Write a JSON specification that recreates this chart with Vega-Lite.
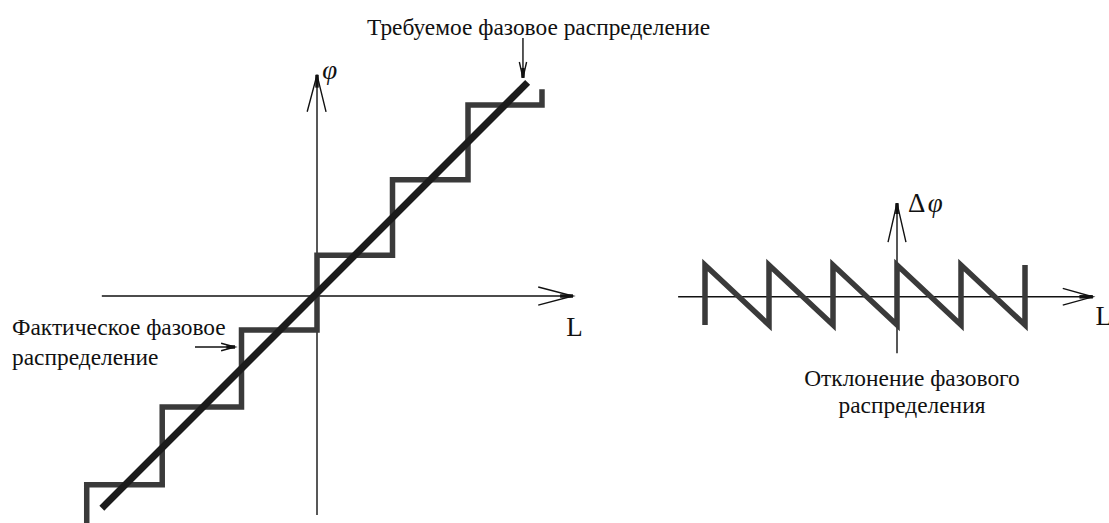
{
  "$schema": "https://vega.github.io/schema/vega-lite/v6.json",
  "width": 1109,
  "height": 523,
  "autosize": "none",
  "padding": 0,
  "background": "white",
  "config": {"view": {"stroke": null}},
  "datasets": {
    "leftLines": [
      {"seg": "stair", "kind": "actual", "i": 0, "x": -3.05, "y": -3.1},
      {"seg": "stair", "kind": "actual", "i": 1, "x": -3.05, "y": -2.54},
      {"seg": "stair", "kind": "actual", "i": 2, "x": -2.05, "y": -2.54},
      {"seg": "stair", "kind": "actual", "i": 3, "x": -2.05, "y": -1.51},
      {"seg": "stair", "kind": "actual", "i": 4, "x": -1.0, "y": -1.51},
      {"seg": "stair", "kind": "actual", "i": 5, "x": -1.0, "y": -0.49},
      {"seg": "stair", "kind": "actual", "i": 6, "x": 0, "y": -0.49},
      {"seg": "stair", "kind": "actual", "i": 7, "x": 0, "y": 0.5},
      {"seg": "stair", "kind": "actual", "i": 8, "x": 1.0, "y": 0.5},
      {"seg": "stair", "kind": "actual", "i": 9, "x": 1.0, "y": 1.5},
      {"seg": "stair", "kind": "actual", "i": 10, "x": 2.0, "y": 1.5},
      {"seg": "stair", "kind": "actual", "i": 11, "x": 2.0, "y": 2.49},
      {"seg": "stair", "kind": "actual", "i": 12, "x": 2.98, "y": 2.49},
      {"seg": "stair", "kind": "actual", "i": 13, "x": 2.98, "y": 2.7},
      {"seg": "diag", "kind": "required", "i": 0, "x": -2.85, "y": -2.85},
      {"seg": "diag", "kind": "required", "i": 1, "x": 2.79, "y": 2.79},
      {"seg": "xaxis", "kind": "axis", "i": 0, "x": -2.85, "y": -0.04},
      {"seg": "xaxis", "kind": "axis", "i": 1, "x": 3.39, "y": -0.04},
      {"seg": "yaxis", "kind": "axis", "i": 0, "x": 0, "y": -2.94},
      {"seg": "yaxis", "kind": "axis", "i": 1, "x": 0, "y": 2.89},
      {"seg": "xhead", "kind": "axis", "i": 0, "x": 2.93, "y": 0.08},
      {"seg": "xhead", "kind": "axis", "i": 1, "x": 3.39, "y": -0.04},
      {"seg": "xhead", "kind": "axis", "i": 2, "x": 2.93, "y": -0.16},
      {"seg": "yhead", "kind": "axis", "i": 0, "x": -0.13, "y": 2.40},
      {"seg": "yhead", "kind": "axis", "i": 1, "x": 0, "y": 2.89},
      {"seg": "yhead", "kind": "axis", "i": 2, "x": 0.12, "y": 2.40},
      {"seg": "p1", "kind": "axis", "i": 0, "x": 2.728, "y": 3.377},
      {"seg": "p1", "kind": "axis", "i": 1, "x": 2.728, "y": 2.85},
      {"seg": "p1h", "kind": "axis", "i": 0, "x": 2.68, "y": 3.06},
      {"seg": "p1h", "kind": "axis", "i": 1, "x": 2.728, "y": 2.85},
      {"seg": "p1h", "kind": "axis", "i": 2, "x": 2.776, "y": 3.06},
      {"seg": "p2", "kind": "axis", "i": 0, "x": -1.616, "y": -0.715},
      {"seg": "p2", "kind": "axis", "i": 1, "x": -1.086, "y": -0.715},
      {"seg": "p2h", "kind": "axis", "i": 0, "x": -1.27, "y": -0.665},
      {"seg": "p2h", "kind": "axis", "i": 1, "x": -1.086, "y": -0.715},
      {"seg": "p2h", "kind": "axis", "i": 2, "x": -1.27, "y": -0.765},
      {"seg": "t1", "kind": "tip", "i": 0, "x": 3.22, "y": -0.04},
      {"seg": "t1", "kind": "tip", "i": 1, "x": 3.39, "y": -0.04},
      {"seg": "t2", "kind": "tip", "i": 0, "x": 0, "y": 2.72},
      {"seg": "t2", "kind": "tip", "i": 1, "x": 0, "y": 2.89},
      {"seg": "t3", "kind": "tip", "i": 0, "x": 2.728, "y": 2.98},
      {"seg": "t3", "kind": "tip", "i": 1, "x": 2.728, "y": 2.85},
      {"seg": "t4", "kind": "tip", "i": 0, "x": -1.2, "y": -0.715},
      {"seg": "t4", "kind": "tip", "i": 1, "x": -1.086, "y": -0.715}
    ],
    "leftText": [
      {"label": "Требуемое фазовое распределение", "kind": "label", "x": 0.662, "y": 3.417},
      {"label": "Фактическое фазовое", "kind": "label", "x": -4.04, "y": -0.556},
      {"label": "распределение", "kind": "label", "x": -4.04, "y": -0.954},
      {"label": "φ", "kind": "symbol", "x": 0.07, "y": 2.84},
      {"label": "L", "kind": "axisname", "x": 3.3, "y": -0.57}
    ],
    "rightLines": [
      {"seg": "saw", "kind": "deviation", "i": 0, "x": -3, "y": -0.5},
      {"seg": "saw", "kind": "deviation", "i": 1, "x": -3, "y": 0.5},
      {"seg": "saw", "kind": "deviation", "i": 2, "x": -2, "y": -0.5},
      {"seg": "saw", "kind": "deviation", "i": 3, "x": -2, "y": 0.5},
      {"seg": "saw", "kind": "deviation", "i": 4, "x": -1, "y": -0.5},
      {"seg": "saw", "kind": "deviation", "i": 5, "x": -1, "y": 0.5},
      {"seg": "saw", "kind": "deviation", "i": 6, "x": 0, "y": -0.5},
      {"seg": "saw", "kind": "deviation", "i": 7, "x": 0, "y": 0.5},
      {"seg": "saw", "kind": "deviation", "i": 8, "x": 1, "y": -0.5},
      {"seg": "saw", "kind": "deviation", "i": 9, "x": 1, "y": 0.5},
      {"seg": "saw", "kind": "deviation", "i": 10, "x": 2, "y": -0.5},
      {"seg": "saw", "kind": "deviation", "i": 11, "x": 2, "y": 0.5},
      {"seg": "xaxis", "kind": "axis", "i": 0, "x": -3.42, "y": -0.03},
      {"seg": "xaxis", "kind": "axis", "i": 1, "x": 3.06, "y": -0.03},
      {"seg": "yaxis", "kind": "axis", "i": 0, "x": 0, "y": -0.97},
      {"seg": "yaxis", "kind": "axis", "i": 1, "x": 0, "y": 1.53},
      {"seg": "xhead", "kind": "axis", "i": 0, "x": 2.59, "y": 0.11},
      {"seg": "xhead", "kind": "axis", "i": 1, "x": 3.06, "y": -0.03},
      {"seg": "xhead", "kind": "axis", "i": 2, "x": 2.59, "y": -0.17},
      {"seg": "yhead", "kind": "axis", "i": 0, "x": -0.14, "y": 0.88},
      {"seg": "yhead", "kind": "axis", "i": 1, "x": 0, "y": 1.53},
      {"seg": "yhead", "kind": "axis", "i": 2, "x": 0.14, "y": 0.88},
      {"seg": "t1", "kind": "tip", "i": 0, "x": 2.85, "y": -0.03},
      {"seg": "t1", "kind": "tip", "i": 1, "x": 3.06, "y": -0.03},
      {"seg": "t2", "kind": "tip", "i": 0, "x": 0, "y": 1.35},
      {"seg": "t2", "kind": "tip", "i": 1, "x": 0, "y": 1.53}
    ],
    "rightText": [
      {"label": "Δ", "kind": "upright", "x": 0.17, "y": 1.39},
      {"label": "φ", "kind": "symbol", "x": 0.48, "y": 1.39},
      {"label": "L", "kind": "axisname", "x": 3.1, "y": -0.5},
      {"label": "Отклонение фазового", "kind": "label", "x": 0.234, "y": -1.52},
      {"label": "распределения", "kind": "label", "x": 0.234, "y": -1.97}
    ]
  },
  "layer": [
    {
      "encoding": {
        "x": {"field": "x", "type": "quantitative", "scale": {"domain": [-4.1987, 10.4901], "nice": false, "zero": false}, "axis": null},
        "y": {"field": "y", "type": "quantitative", "scale": {"domain": [-3.0464, 3.8808], "nice": false, "zero": false}, "axis": null}
      },
      "layer": [
        {
          "data": {"name": "leftLines"},
          "transform": [{"filter": "datum.kind === 'axis'"}],
          "mark": {"type": "line", "color": "#111111", "strokeWidth": 1.4},
          "encoding": {"detail": {"field": "seg"}, "order": {"field": "i", "type": "quantitative"}}
        },
        {
          "data": {"name": "leftLines"},
          "transform": [{"filter": "datum.kind === 'tip'"}],
          "mark": {"type": "line", "color": "#111111", "strokeWidth": 3.5},
          "encoding": {"detail": {"field": "seg"}, "order": {"field": "i", "type": "quantitative"}}
        },
        {
          "data": {"name": "leftLines"},
          "transform": [{"filter": "datum.kind === 'actual'"}],
          "mark": {"type": "line", "color": "#3a3a3a", "strokeWidth": 5.5, "strokeJoin": "miter", "strokeCap": "butt"},
          "encoding": {"detail": {"field": "seg"}, "order": {"field": "i", "type": "quantitative"}}
        },
        {
          "data": {"name": "leftLines"},
          "transform": [{"filter": "datum.kind === 'required'"}],
          "mark": {"type": "line", "color": "#1c1c1c", "strokeWidth": 7, "strokeCap": "butt"},
          "encoding": {"detail": {"field": "seg"}, "order": {"field": "i", "type": "quantitative"}}
        },
        {
          "data": {"name": "leftText"},
          "transform": [{"filter": "datum.kind === 'label'"}],
          "mark": {"type": "text", "font": "Liberation Serif", "fontSize": 23.4, "align": "left", "baseline": "alphabetic", "color": "#111111"},
          "encoding": {"text": {"field": "label"}}
        },
        {
          "data": {"name": "leftText"},
          "transform": [{"filter": "datum.kind === 'symbol'"}],
          "mark": {"type": "text", "font": "Liberation Serif", "fontStyle": "italic", "fontSize": 27, "align": "left", "baseline": "alphabetic", "color": "#111111"},
          "encoding": {"text": {"field": "label"}}
        },
        {
          "data": {"name": "leftText"},
          "transform": [{"filter": "datum.kind === 'axisname'"}],
          "mark": {"type": "text", "font": "Liberation Serif", "fontSize": 27, "align": "left", "baseline": "alphabetic", "color": "#111111"},
          "encoding": {"text": {"field": "label"}}
        }
      ]
    },
    {
      "encoding": {
        "x": {"field": "x", "type": "quantitative", "scale": {"domain": [-14.015625, 3.3125], "nice": false, "zero": false}, "axis": null},
        "y": {"field": "y", "type": "quantitative", "scale": {"domain": [-3.8, 4.916667], "nice": false, "zero": false}, "axis": null}
      },
      "layer": [
        {
          "data": {"name": "rightLines"},
          "transform": [{"filter": "datum.kind === 'axis'"}],
          "mark": {"type": "line", "color": "#111111", "strokeWidth": 1.4},
          "encoding": {"detail": {"field": "seg"}, "order": {"field": "i", "type": "quantitative"}}
        },
        {
          "data": {"name": "rightLines"},
          "transform": [{"filter": "datum.kind === 'tip'"}],
          "mark": {"type": "line", "color": "#111111", "strokeWidth": 3.5},
          "encoding": {"detail": {"field": "seg"}, "order": {"field": "i", "type": "quantitative"}}
        },
        {
          "data": {"name": "rightLines"},
          "transform": [{"filter": "datum.kind === 'deviation'"}],
          "mark": {"type": "line", "color": "#3a3a3a", "strokeWidth": 5.5, "strokeJoin": "miter", "strokeCap": "butt"},
          "encoding": {"detail": {"field": "seg"}, "order": {"field": "i", "type": "quantitative"}}
        },
        {
          "data": {"name": "rightText"},
          "transform": [{"filter": "datum.kind === 'label'"}],
          "mark": {"type": "text", "font": "Liberation Serif", "fontSize": 23.4, "align": "center", "baseline": "alphabetic", "color": "#111111"},
          "encoding": {"text": {"field": "label"}}
        },
        {
          "data": {"name": "rightText"},
          "transform": [{"filter": "datum.kind === 'upright' || datum.kind === 'axisname'"}],
          "mark": {"type": "text", "font": "Liberation Serif", "fontSize": 27, "align": "left", "baseline": "alphabetic", "color": "#111111"},
          "encoding": {"text": {"field": "label"}}
        },
        {
          "data": {"name": "rightText"},
          "transform": [{"filter": "datum.kind === 'symbol'"}],
          "mark": {"type": "text", "font": "Liberation Serif", "fontStyle": "italic", "fontSize": 27, "align": "left", "baseline": "alphabetic", "color": "#111111"},
          "encoding": {"text": {"field": "label"}}
        }
      ]
    }
  ],
  "resolve": {"scale": {"x": "independent", "y": "independent"}}
}
